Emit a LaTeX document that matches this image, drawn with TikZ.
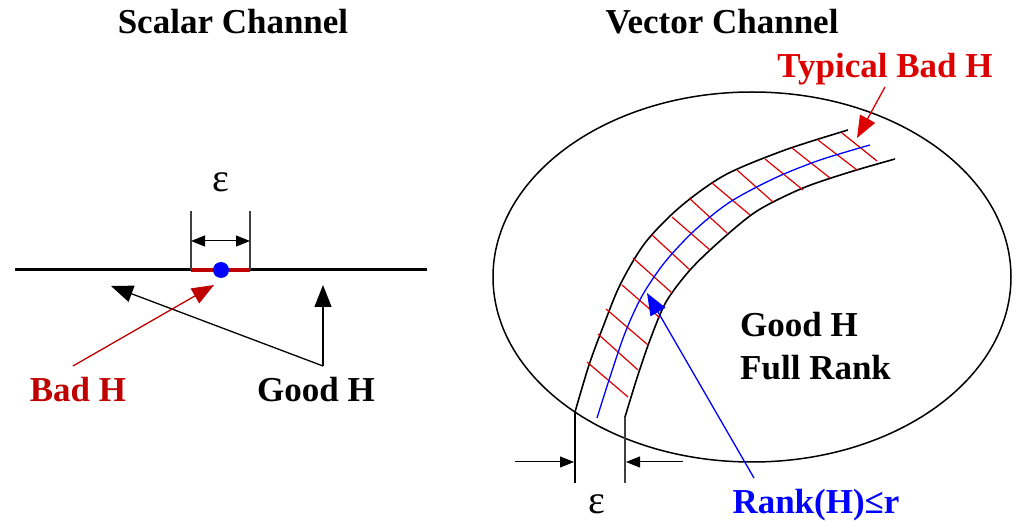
\documentclass[tikz,border=0pt]{standalone}
\usepackage{fontspec}
\setmainfont{Liberation Serif}
\usetikzlibrary{arrows.meta,shapes.geometric}
\definecolor{badred}{RGB}{190,0,0}
\definecolor{hatchred}{RGB}{220,0,0}
\definecolor{rankblue}{RGB}{0,0,255}
\tikzset{
  lbl/.style={font=\fontsize{35}{40}\selectfont\bfseries, inner sep=0pt},
  eps/.style={font=\fontsize{40}{44}\selectfont, inner sep=0pt},
  bigarrow/.style={-{Triangle[length=22pt,width=17pt]}, line width=1.3pt},
  dimarrow/.style={-{Triangle[length=14pt,width=11pt]}, line width=1pt},
  extline/.style={line width=1.2pt, draw=black!75},
  bandline/.style={line width=1.6pt},
  hatch/.style={draw=hatchred, line width=1.2pt},
}
\begin{document}
\begin{tikzpicture}[x=1pt,y=-1pt]
\useasboundingbox (0,0) rectangle (1021,521);
% ---------- Left panel ----------
\node[lbl, anchor=base] (t1) at (233,34) {Scalar Channel};
\coordinate (hl) at (15,270);
\coordinate (hr) at (427,270);
\draw[line width=3pt] (hl) -- (hr);
\coordinate (ra) at (191,270);
\coordinate (rb) at (250,270);
\draw[badred, line width=4.5pt] (ra) -- (rb);
\node[circle, fill=rankblue, inner sep=0pt, minimum size=16pt] (dot) at (221,270) {};
\coordinate (ea) at (191,211);
\coordinate (eb) at (250,211);
\draw[extline] (ra) -- (ea);
\draw[extline] (rb) -- (eb);
\coordinate (da) at (191,241);
\coordinate (db) at (250,241);
\draw[{Triangle[length=14pt,width=11pt]}-{Triangle[length=14pt,width=11pt]}, line width=1pt] (da) -- (db);
\node[eps, anchor=base] (e1) at (221,192) {ε};
\coordinate (gj) at (323,366);
\coordinate (gt1) at (323,285);
\coordinate (gt2) at (111,286);
\draw[bigarrow] (gj) -- (gt1);
\draw[bigarrow] (gj) -- (gt2);
\coordinate (bs) at (73,366);
\coordinate (bt) at (214,285);
\draw[bigarrow, badred] (bs) -- (bt);
\node[lbl, anchor=base, text=badred] (badH) at (78,402) {Bad H};
\node[lbl, anchor=base] (goodH) at (316,402) {Good H};
% ---------- Right panel ----------
\node[lbl, anchor=base] (t2) at (722,34) {Vector Channel};
\node[draw, ellipse, line width=1.5pt, minimum width=518pt, minimum height=370pt, inner sep=0pt] (ell) at (752,277) {};
% band
\draw[bandline] plot[smooth] coordinates {(575,412) (589,365) (603,327) (620,285) (645,243) (680,207) (725,175) (785,150) (848,130)};
\draw[bandline] plot[smooth] coordinates {(625,417) (637,378) (650,340) (666,302) (690,270) (720,241) (757,211) (803,188) (850,172) (895,159)};
% hatch lines
\foreach \a/\b/\c/\d in {842/133/877/161, 818/140/857/170, 792/148/830/178, 765/159/803/190, 737/170/773/202, 712/183/750/215, 689/198/727/233, 672/217/710/250, 652/235/690/270, 633/258/672/293, 622/285/660/318, 606/309/648/345, 598/334/638/370, 587/362/628/397}
  \draw[hatch] (\a,\b) -- (\c,\d);
% blue centre line
\draw[rankblue, line width=1.3pt] plot[smooth] coordinates {(597,418) (610,377) (625,333) (642,296) (665,262) (695,230) (730,202) (775,178) (820,160) (870,145)};
% extension lines
\coordinate (x1a) at (575,412);
\coordinate (x1b) at (575,483);
\coordinate (x2a) at (625,417);
\coordinate (x2b) at (625,483);
\draw[line width=1.3pt] (x1a) -- (x1b);
\draw[extline] (x2a) -- (x2b);
\coordinate (dl) at (515,462);
\coordinate (dlt) at (574,462);
\coordinate (dr) at (683,462);
\coordinate (drt) at (626,462);
\draw[dimarrow] (dl) -- (dlt);
\draw[dimarrow] (dr) -- (drt);
\node[eps, anchor=base] (e2) at (597,513) {ε};
% labels and pointers
\node[lbl, anchor=base, text=hatchred] (typ) at (885,78) {Typical Bad H};
\coordinate (ts) at (885,87);
\coordinate (tt) at (857,138);
\draw[bigarrow, hatchred] (ts) -- (tt);
\node[lbl, anchor=base west] (gh) at (740,337) {Good H};
\node[lbl, anchor=base west] (fr) at (740,380) {Full Rank};
\node[lbl, anchor=base, text=rankblue] (rk) at (816,513) {Rank(H)≤r};
\coordinate (rs) at (754,478);
\coordinate (rt) at (647,293);
\draw[bigarrow, rankblue] (rs) -- (rt);
\end{tikzpicture}
\end{document}
